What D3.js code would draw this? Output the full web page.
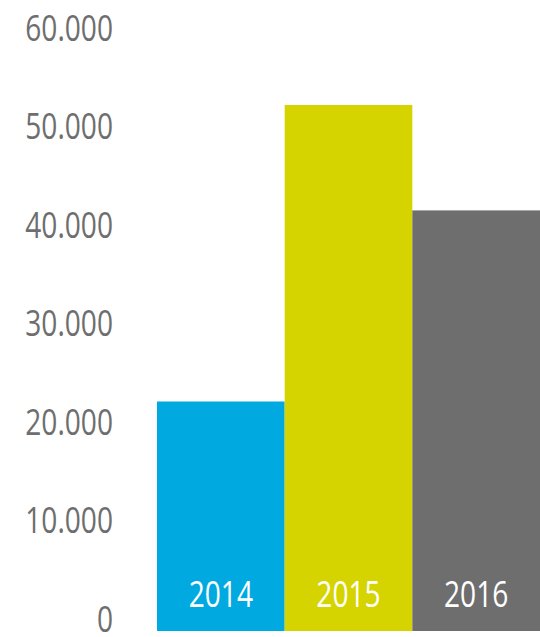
<!DOCTYPE html>
<html>
<head>
<meta charset="utf-8">
<script src="https://cdn.jsdelivr.net/npm/d3@7"></script>
<style>
  body { margin: 0; background: #fff; }
  text { font-family: "Open Sans", "DejaVu Sans Condensed", sans-serif; }
</style>
</head>
<body>
<div id="chart"></div>
<script>
// données
const years = ["2014", "2015", "2016"];
const values = [23300, 53400, 42700];
const colors = ["#00aae1", "#d5d400", "#6e6e6e"];
const yTicks = [0, 10000, 20000, 30000, 40000, 50000, 60000];
const yTickLabels = ["0", "10.000", "20.000", "30.000", "40.000", "50.000", "60.000"];

const width = 540, height = 637;
const narrow = "scale(0.76,1)"; // police condensée simulée

const svg = d3.select("#chart")
    .append("svg")
    .attr("width", width)
    .attr("height", height);

// échelles
const x = d3.scaleBand()
    .domain(years)
    .range([157, 540])
    .padding(0);

const y = d3.scaleLinear()
    .domain([0, 60000])
    .range([631, 40]);

// axe Y (labels seulement)
const yAxis = svg.append("g")
    .attr("transform", "translate(113,0)")
    .call(d3.axisLeft(y).tickValues(yTicks).tickSize(0).tickPadding(0)
        .tickFormat((d, i) => yTickLabels[i]));

yAxis.select(".domain").remove();
yAxis.selectAll("text")
    .attr("dy", 0)
    .attr("x", 0)
    .attr("transform", narrow)
    .attr("fill", "#6e6e6e")
    .style("font-size", "37px");

// barres
svg.selectAll(".bar")
    .data(values)
    .enter()
    .append("rect")
    .attr("class", "bar")
    .attr("x", (d, i) => x(years[i]))
    .attr("y", d => y(d))
    .attr("width", x.bandwidth())
    .attr("height", d => y(0) - y(d))
    .attr("fill", (d, i) => colors[i]);

// années dans les barres
svg.selectAll(".year")
    .data(years)
    .enter()
    .append("g")
    .attr("class", "year")
    .attr("transform", d => `translate(${x(d) + x.bandwidth() / 2},607)`)
    .append("text")
    .attr("transform", narrow)
    .attr("text-anchor", "middle")
    .attr("fill", "#fff")
    .style("font-size", "37px")
    .text(d => d);
</script>
</body>
</html>
